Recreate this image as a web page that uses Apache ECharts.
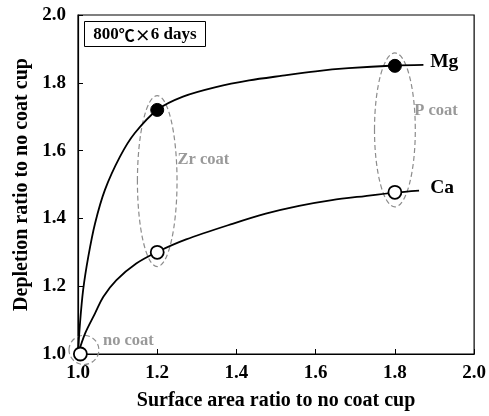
<!DOCTYPE html>
<html>
<head>
<meta charset="utf-8">
<script src="https://cdn.jsdelivr.net/npm/echarts@6/dist/echarts.min.js"></script>
<style>
  html, body { margin: 0; padding: 0; background: #fff; }
  #main { width: 489px; height: 416px; }
</style>
</head>
<body>
<div id="main"></div>
<script>
// measured points (marker)
var mgPoints = [[1.2, 1.72], [1.8, 1.85]];
var caPoints = [[1.2, 1.30], [1.8, 1.477]];
var noCoatPoint = [[1.006, 1.0]];

// fitted curves
var mgCurve = [
    [1.0, 1.0], [1.005, 1.09], [1.013, 1.189], [1.026, 1.287], [1.043, 1.385],
    [1.068, 1.484], [1.106, 1.582], [1.143, 1.651], [1.2, 1.72], [1.265, 1.759],
    [1.348, 1.787], [1.432, 1.807], [1.516, 1.821], [1.6, 1.834], [1.683, 1.843],
    [1.8, 1.851], [1.872, 1.853]
];
var caCurve = [
    [1.0, 1.0], [1.018, 1.061], [1.043, 1.12], [1.064, 1.169], [1.097, 1.218],
    [1.147, 1.267], [1.2, 1.301], [1.273, 1.338], [1.39, 1.384], [1.474, 1.414],
    [1.558, 1.437], [1.641, 1.454], [1.725, 1.466], [1.8, 1.476], [1.861, 1.482]
];

// dashed ellipses: [cx, cy, rx, ry] in axis units
var ellipses = [
    [1.2, 1.51, 0.05, 0.252],
    [1.8, 1.661, 0.0515, 0.227],
    [1.015, 1.012, 0.0377, 0.043]
];

// text notes: [x, y, text, kind]
var notes = [
    [1.251, 1.572, 'Zr coat', 'grey'],
    [1.849, 1.717, 'P coat', 'grey'],
    [1.063, 1.038, 'no coat', 'grey'],
    [1.889, 1.861, 'Mg', 'black'],
    [1.889, 1.49, 'Ca', 'black']
];

var serif = '"Liberation Serif", "Times New Roman", serif';
var cjk = '"Noto Sans CJK JP", sans-serif';

var chart = echarts.init(document.getElementById('main'));

var option = {
    animation: false,
    grid: {
        left: 78, right: 13, top: 15, bottom: 62,
        show: true, borderColor: '#000', borderWidth: 1.2
    },
    xAxis: {
        type: 'value', min: 1.0, max: 2.0, interval: 0.2,
        name: 'Surface area ratio to no coat cup',
        nameLocation: 'middle', nameGap: 37,
        nameTextStyle: { fontFamily: serif, fontWeight: 'bold', fontSize: 20, color: '#000' },
        axisLine: { lineStyle: { color: '#000', width: 1.2 } },
        axisTick: { inside: true, length: 5, lineStyle: { color: '#000' } },
        axisLabel: {
            fontFamily: serif, fontWeight: 'bold', fontSize: 19, color: '#000', margin: 10,
            formatter: function (v) { return v.toFixed(1); }
        },
        splitLine: { show: false }
    },
    yAxis: {
        type: 'value', min: 1.0, max: 2.0, interval: 0.2,
        name: 'Depletion ratio to no coat cup',
        nameLocation: 'middle', nameGap: 46,
        nameTextStyle: { fontFamily: serif, fontWeight: 'bold', fontSize: 20, color: '#000' },
        axisLine: { lineStyle: { color: '#000', width: 1.2 } },
        axisTick: { inside: true, length: 5, lineStyle: { color: '#000' } },
        axisLabel: {
            fontFamily: serif, fontWeight: 'bold', fontSize: 19, color: '#000', margin: 12,
            formatter: function (v) { return v.toFixed(1); }
        },
        splitLine: { show: false }
    },
    graphic: [{
        type: 'group', left: 84, top: 21,
        children: [
            { type: 'rect', shape: { x: 0, y: 0, width: 121, height: 25 },
              style: { fill: '#fff', stroke: '#000', lineWidth: 1 } },
            { type: 'text', x: 60.5, y: 13,
              style: {
                  text: '{a|800}{b|℃×}{a|6 days}',
                  align: 'center', verticalAlign: 'middle',
                  rich: {
                      a: { fontFamily: serif, fontWeight: 'bold', fontSize: 17, fill: '#000' },
                      b: { fontFamily: cjk, fontWeight: 'bold', fontSize: 16, fill: '#000' }
                  }
              } }
        ]
    }],
    series: [
        {
            type: 'custom', name: 'ellipses', data: ellipses, z: 1, silent: true,
            renderItem: function (params, api) {
                var c = api.coord([api.value(0), api.value(1)]);
                var s = api.size([api.value(2), api.value(3)]);
                return {
                    type: 'ellipse',
                    shape: { cx: c[0], cy: c[1], rx: s[0], ry: s[1] },
                    style: { fill: null, stroke: '#8c8c8c', lineWidth: 1.2, lineDash: [5, 3] }
                };
            }
        },
        {
            type: 'line', name: 'Mg fit', data: mgCurve, smooth: 0.3, showSymbol: false,
            lineStyle: { color: '#000', width: 1.8 }, z: 2
        },
        {
            type: 'line', name: 'Ca fit', data: caCurve, smooth: 0.3, showSymbol: false,
            lineStyle: { color: '#000', width: 1.8 }, z: 2
        },
        {
            type: 'scatter', name: 'Mg', data: mgPoints, symbol: 'circle', symbolSize: 13,
            itemStyle: { color: '#000', borderColor: '#000', borderWidth: 1, opacity: 1 }, z: 3
        },
        {
            type: 'scatter', name: 'Ca', data: caPoints, symbol: 'circle', symbolSize: 13,
            itemStyle: { color: '#fff', borderColor: '#000', borderWidth: 1.8, opacity: 1 }, z: 3
        },
        {
            type: 'scatter', name: 'no coat', data: noCoatPoint, symbol: 'circle', symbolSize: 13,
            itemStyle: { color: '#fff', borderColor: '#000', borderWidth: 1.8, opacity: 1 }, z: 3
        },
        {
            type: 'custom', name: 'notes', data: notes, z: 4, silent: true,
            renderItem: function (params, api) {
                var n = notes[params.dataIndex];
                var c = api.coord([n[0], n[1]]);
                var grey = n[3] === 'grey';
                return {
                    type: 'text', x: c[0], y: c[1],
                    style: {
                        text: n[2], fontFamily: serif, fontWeight: 'bold',
                        fontSize: grey ? 16.5 : 19.5, fill: grey ? '#999' : '#000',
                        align: 'left', verticalAlign: 'middle'
                    }
                };
            }
        }
    ]
};

chart.setOption(option);
</script>
</body>
</html>
